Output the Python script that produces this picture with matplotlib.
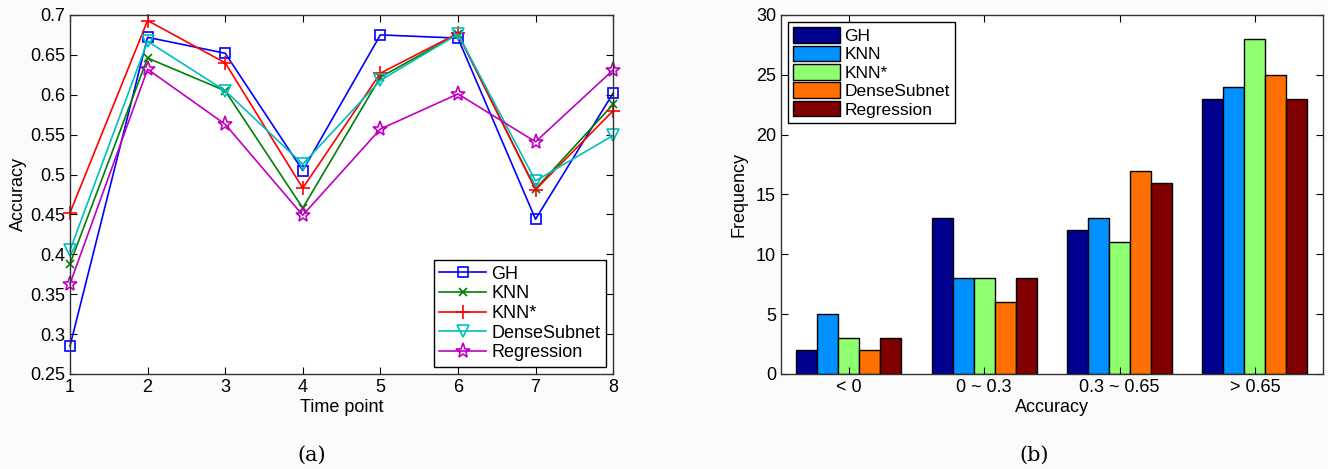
import matplotlib
matplotlib.use("Agg")
import matplotlib.pyplot as plt
import numpy as np

# (a) accuracy per time point
time_points = [1, 2, 3, 4, 5, 6, 7, 8]
gh = [0.285, 0.672, 0.652, 0.505, 0.675, 0.671, 0.444, 0.602]
knn = [0.388, 0.646, 0.605, 0.458, 0.622, 0.676, 0.482, 0.588]
knn_star = [0.452, 0.693, 0.640, 0.483, 0.627, 0.677, 0.481, 0.580]
dense_subnet = [0.405, 0.667, 0.605, 0.513, 0.618, 0.676, 0.492, 0.549]
regression = [0.363, 0.632, 0.563, 0.449, 0.557, 0.601, 0.541, 0.631]

# (b) frequency per accuracy bin
bins = ["< 0", "0 ~ 0.3", "0.3 ~ 0.65", "> 0.65"]
freq_gh = [2, 13, 12, 23]
freq_knn = [5, 8, 13, 24]
freq_knn_star = [3, 8, 11, 28]
freq_dense = [2, 6, 17, 25]
freq_reg = [3, 8, 16, 23]

methods = ["GH", "KNN", "KNN*", "DenseSubnet", "Regression"]

plt.rcParams['font.family'] = ['Liberation Sans', 'DejaVu Sans']

fig = plt.figure(figsize=(13.28, 4.69), dpi=100)
fig.patch.set_facecolor("#fbfbfb")

# left panel
ax1 = fig.add_axes([0.0527, 0.2026, 0.409, 0.7655])
line_series = [gh, knn, knn_star, dense_subnet, regression]
line_colors = ["#0000ff", "#008000", "#ff0000", "#00bfbf", "#bf00bf"]
line_markers = ["s", "x", "+", "v", "*"]
line_msizes = [7, 6, 10, 8, 11]
for vals, c, m, ms, name in zip(line_series, line_colors, line_markers, line_msizes, methods):
    ax1.plot(time_points, vals, color=c, marker=m, markersize=ms, linewidth=1.2,
             markerfacecolor="none", markeredgecolor=c, markeredgewidth=1.2,
             label=name, clip_on=False)
ax1.set_xlim(1, 8)
ax1.set_ylim(0.25, 0.7)
ax1.set_xticks(time_points)
ax1.set_yticks(np.arange(0.25, 0.701, 0.05))
ax1.set_yticklabels(["0.25", "0.3", "0.35", "0.4", "0.45", "0.5", "0.55", "0.6", "0.65", "0.7"])
ax1.set_xlabel("Time point", fontsize=13, labelpad=2)
ax1.set_ylabel("Accuracy", fontsize=13, labelpad=2)
leg1 = ax1.legend(loc="lower right", fontsize=13, fancybox=False, framealpha=1,
                  edgecolor="black", handlelength=2.6, borderpad=0.3,
                  labelspacing=0.15, handletextpad=0.3, borderaxespad=0.4)
leg1.get_frame().set_linewidth(1.0)

# right panel
ax2 = fig.add_axes([0.588, 0.2026, 0.408, 0.7655])
bar_series = [freq_gh, freq_knn, freq_knn_star, freq_dense, freq_reg]
bar_colors = ["#00008f", "#0090ff", "#8fff70", "#ff7000", "#800000"]
x = np.arange(1, len(bins) + 1)
width = 0.155
for i, (vals, c, name) in enumerate(zip(bar_series, bar_colors, methods)):
    ax2.bar(x + (i - 2) * width, vals, width=width, color=c, edgecolor="black",
            linewidth=1.0, label=name)
ax2.set_xlim(0.5, 4.5)
ax2.set_ylim(0, 30)
ax2.set_xticks(x)
ax2.set_xticklabels(bins)
ax2.set_yticks(range(0, 31, 5))
ax2.set_xlabel("Accuracy", fontsize=13, labelpad=2)
ax2.set_ylabel("Frequency", fontsize=13, labelpad=6)
leg2 = ax2.legend(loc="upper left", fontsize=12.5, fancybox=False, framealpha=1,
                  edgecolor="black", handlelength=2.7, handleheight=1.0,
                  borderpad=0.3, labelspacing=0.1, handletextpad=0.25,
                  borderaxespad=0.4)
leg2.get_frame().set_linewidth(1.0)

for ax in (ax1, ax2):
    ax.set_facecolor("white")
    ax.tick_params(direction="in", top=True, right=True, labelsize=13,
                   length=5, width=0.8)
    for s in ax.spines.values():
        s.set_linewidth(1.0)
        s.set_color("#333333")

fig.text(0.235, 0.03, "(a)", fontsize=15, family="DejaVu Serif", ha="center", va="center")
fig.text(0.779, 0.03, "(b)", fontsize=15, family="DejaVu Serif", ha="center", va="center")

fig.savefig("out.png", dpi=100, facecolor=fig.get_facecolor())
